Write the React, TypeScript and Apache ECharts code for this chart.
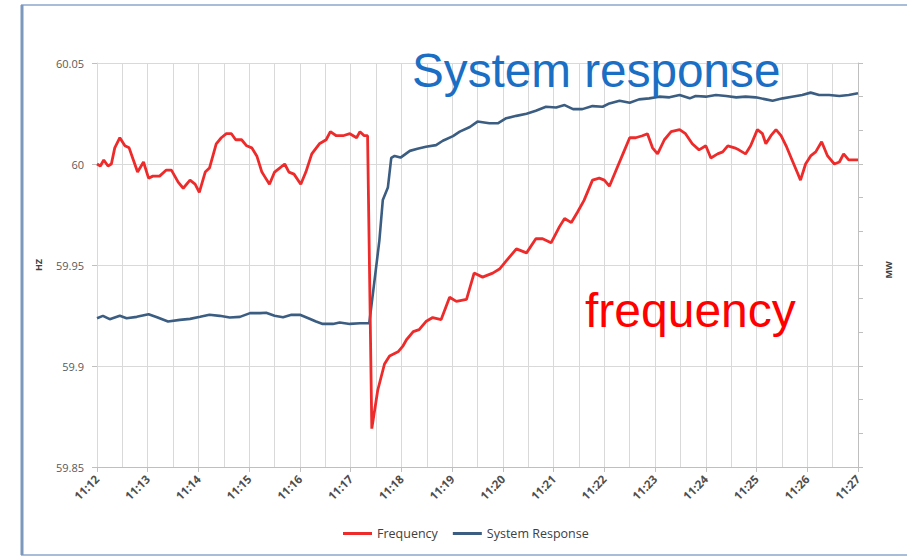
import React, { useEffect, useRef } from "react";
import * as echarts from "echarts";

// seconds after 11:12:00 and frequency in Hz
const freqTimes = [0, 4, 8, 13, 17, 21, 27, 33, 38, 43, 48, 55, 61, 66, 74, 82, 88, 96, 102, 110, 116, 121, 128, 133, 141, 147, 153, 159, 164, 171, 177, 183, 189, 195, 198, 204, 210, 216, 222, 227, 233, 241, 247, 254, 263, 271, 276, 283, 291, 299, 307, 311, 316, 320, 325, 332, 340, 346, 356, 362, 366, 374, 381, 389, 397, 407, 417, 425, 437, 446, 456, 468, 476, 484, 496, 508, 519, 527, 537, 547, 553, 561, 568, 576, 586, 594, 600, 606, 614, 622, 630, 637, 645, 651, 657, 663, 671, 679, 689, 696, 704, 712, 720, 726, 734, 740, 746, 754, 759, 767, 773, 781, 787, 791, 797, 803, 809, 815, 822, 828, 832, 838, 844, 850, 857, 864, 872, 878, 883, 889, 900];
const freqValues = [60.0, 59.999, 60.002, 59.999, 60.0, 60.008, 60.013, 60.009, 60.008, 60.002, 59.996, 60.001, 59.993, 59.994, 59.994, 59.997, 59.997, 59.991, 59.988, 59.992, 59.99, 59.986, 59.996, 59.998, 60.01, 60.013, 60.015, 60.015, 60.012, 60.012, 60.009, 60.008, 60.004, 59.996, 59.994, 59.99, 59.996, 59.998, 60.0, 59.996, 59.995, 59.99, 59.996, 60.005, 60.01, 60.012, 60.016, 60.014, 60.014, 60.015, 60.013, 60.016, 60.014, 60.014, 59.869, 59.888, 59.901, 59.905, 59.907, 59.91, 59.913, 59.917, 59.918, 59.922, 59.924, 59.923, 59.934, 59.932, 59.933, 59.946, 59.944, 59.946, 59.948, 59.952, 59.958, 59.956, 59.963, 59.963, 59.961, 59.969, 59.973, 59.971, 59.976, 59.982, 59.992, 59.993, 59.992, 59.989, 59.997, 60.005, 60.013, 60.013, 60.014, 60.015, 60.008, 60.005, 60.012, 60.016, 60.017, 60.015, 60.01, 60.007, 60.009, 60.003, 60.005, 60.006, 60.009, 60.008, 60.007, 60.005, 60.009, 60.017, 60.015, 60.01, 60.014, 60.017, 60.014, 60.009, 60.002, 59.996, 59.992, 60.0, 60.004, 60.006, 60.011, 60.004, 60.0, 60.001, 60.005, 60.002, 60.002];

// seconds after 11:12:00 and system response (MW, relative scale)
const respTimes = [0, 7, 15, 27, 35, 47, 61, 71, 84, 98, 110, 122, 133, 145, 157, 169, 181, 193, 200, 210, 220, 230, 240, 250, 259, 267, 279, 287, 299, 311, 322, 330, 334, 338, 344, 348, 352, 359, 370, 379, 389, 401, 409, 421, 429, 441, 450, 464, 474, 484, 496, 508, 519, 531, 543, 553, 563, 574, 586, 598, 606, 618, 630, 641, 653, 665, 677, 689, 701, 708, 720, 732, 744, 756, 767, 779, 791, 799, 811, 822, 834, 844, 854, 866, 878, 889, 900];
const respValues = [44.2, 44.9, 43.9, 44.9, 44.2, 44.6, 45.4, 44.5, 43.2, 43.7, 44.0, 44.6, 45.2, 44.9, 44.4, 44.6, 45.7, 45.7, 45.8, 44.9, 44.5, 45.2, 45.2, 44.2, 43.2, 42.5, 42.5, 42.9, 42.5, 42.7, 42.7, 59.1, 67.4, 79.3, 83.0, 91.8, 92.4, 91.9, 93.9, 94.5, 95.1, 95.6, 96.9, 98.3, 99.6, 101.0, 102.6, 102.1, 102.1, 103.6, 104.3, 104.9, 105.8, 107.0, 106.8, 107.5, 106.3, 106.3, 107.2, 107.0, 108.0, 108.8, 108.2, 109.2, 109.5, 110.0, 109.8, 110.5, 109.5, 110.2, 110.0, 110.5, 110.2, 109.8, 110.0, 109.8, 109.2, 108.8, 109.5, 110.0, 110.5, 111.2, 110.5, 110.5, 110.2, 110.5, 111.0];

const seriesNames = ["Frequency", "System Response"];
const startHour = 11;
const startMinute = 12;

export default function App() {
  const ref = useRef<HTMLDivElement>(null);

  useEffect(() => {
    if (!ref.current) return;
    const chart = echarts.init(ref.current, null, { renderer: "svg" });
    const gridColor = "#d9d9d9";
    const freqData = freqTimes.map((t, i) => [t, freqValues[i]]);
    const respData = respTimes.map((t, i) => [t, respValues[i]]);
    chart.setOption({
      animation: false,
      backgroundColor: "#ffffff",
      grid: { left: 97, right: 49, top: 63, bottom: 90, containLabel: false },
      legend: {
        left: 338,
        top: 522,
        itemWidth: 29,
        itemHeight: 3,
        itemGap: 15,
        icon: "rect",
        textStyle: { fontFamily: "Open Sans", fontSize: 12.5, color: "#404040" },
        data: seriesNames,
      },
      xAxis: {
        type: "value",
        min: 0,
        max: 900,
        interval: 60,
        axisLine: { show: true, lineStyle: { color: "#bfbfbf", width: 1 } },
        axisTick: { show: true, length: 5, lineStyle: { color: "#bfbfbf" } },
        minorTick: { show: false, splitNumber: 2 },
        minorSplitLine: { show: true, lineStyle: { color: gridColor, width: 1 } },
        splitLine: { show: true, lineStyle: { color: gridColor, width: 1 } },
        axisLabel: {
          rotate: 45,
          margin: 10,
          fontFamily: "Open Sans",
          fontSize: 11.5,
          fontWeight: "bold",
          color: "#4d4d4d",
          formatter: (v: number) => `${startHour}:${startMinute + Math.round(v / 60)}`,
        },
      },
      yAxis: [
        {
          type: "value",
          min: 59.85,
          max: 60.05,
          interval: 0.05,
          axisLine: { show: true, lineStyle: { color: gridColor } },
          axisTick: { show: true, length: 5, lineStyle: { color: "#bfbfbf" } },
          splitLine: { show: true, lineStyle: { color: gridColor, width: 1 } },
          axisLabel: {
            margin: 13,
            fontFamily: "Open Sans",
            fontSize: 11,
            color: "#595959",
            formatter: (v: number) => String(parseFloat(v.toFixed(2))),
          },
        },
        {
          type: "value",
          min: 0,
          max: 120,
          interval: 10,
          position: "right",
          axisLine: { show: true, lineStyle: { color: "#bfbfbf" } },
          axisTick: { show: true, length: 5, lineStyle: { color: "#bfbfbf" } },
          splitLine: { show: false },
          axisLabel: { show: false },
        },
      ],
      series: [
        {
          name: seriesNames[0],
          type: "line",
          data: freqData,
          showSymbol: false,
          symbol: "none",
          color: "#ee2b2b",
          lineStyle: { color: "#ee2b2b", width: 2.8 },
          z: 3,
        },
        {
          name: seriesNames[1],
          type: "line",
          yAxisIndex: 1,
          data: respData,
          showSymbol: false,
          symbol: "none",
          color: "#3b5d82",
          lineStyle: { color: "#3b5d82", width: 2.6 },
          z: 2,
        },
      ],
      graphic: [
        {
          type: "rect",
          shape: { x: 22, y: 5, width: 900, height: 550 },
          style: { fill: "none", stroke: "#a9bcd8", lineWidth: 2 },
          silent: true,
        },
        {
          type: "line",
          shape: { x1: 22, y1: 5, x2: 22, y2: 555 },
          style: { stroke: "#7d98bd", lineWidth: 3 },
          silent: true,
        },
        {
          type: "text",
          x: 38,
          y: 265,
          rotation: Math.PI / 2,
          style: {
            text: "HZ",
            fontFamily: "Open Sans",
            fontSize: 9,
            fontWeight: "bold",
            fill: "#404040",
            align: "center",
            verticalAlign: "middle",
          },
        },
        {
          type: "text",
          x: 888,
          y: 270,
          rotation: Math.PI / 2,
          style: {
            text: "MW",
            fontFamily: "Open Sans",
            fontSize: 9,
            fontWeight: "bold",
            fill: "#404040",
            align: "center",
            verticalAlign: "middle",
          },
        },
        {
          type: "text",
          x: 412,
          y: 70,
          z: 100,
          style: {
            text: "System response",
            fontFamily: "Liberation Sans",
            fontSize: 47.7,
            fill: "#1a6fc4",
            align: "left",
            verticalAlign: "middle",
          },
        },
        {
          type: "text",
          x: 585,
          y: 310,
          z: 100,
          style: {
            text: "frequency",
            fontFamily: "Liberation Sans",
            fontSize: 48,
            fill: "#ff0000",
            align: "left",
            verticalAlign: "middle",
          },
        },
      ],
    });
    return () => chart.dispose();
  }, []);

  return (
    <div
      ref={ref}
      style={{ position: "fixed", left: 0, top: 0, width: 907, height: 557, background: "#fff" }}
    />
  );
}
